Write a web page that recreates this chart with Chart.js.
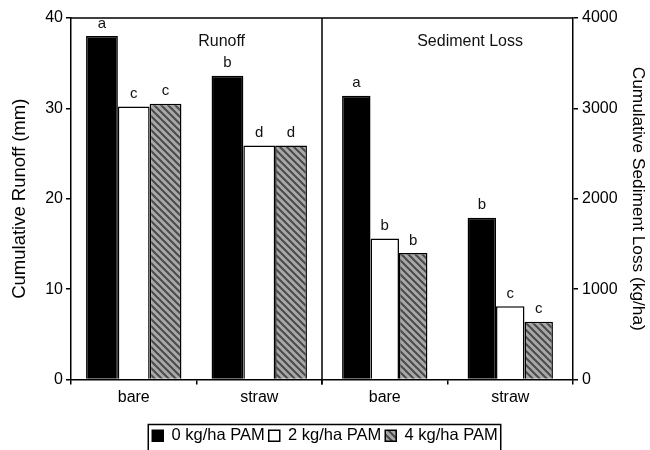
<!DOCTYPE html>
<html lang="en">
<head>
<meta charset="utf-8" />
<title>Cumulative Runoff and Sediment Loss</title>
<script src="https://cdn.jsdelivr.net/npm/chart.js@4.4.0/dist/chart.umd.min.js"></script>
<style>
	html, body { margin: 0; padding: 0; background: #fff; }
	#wrap { width: 650px; height: 450px; }
</style>
</head>
<body>
<div id="wrap"><canvas id="chart" width="650" height="450"></canvas></div>
<script>
	// categories along the x axis (runoff half, then sediment half)
	const categories = ['bare', 'straw', 'bare', 'straw'];
	const seriesNames = ['0 kg/ha PAM', '2 kg/ha PAM', '4 kg/ha PAM'];

	// runoff (mm), left axis
	const runoff0 = [38.0, 33.6];
	const runoff2 = [30.2, 25.9];
	const runoff4 = [30.5, 25.9];
	const runoffLetters = [['a', 'b'], ['c', 'd'], ['c', 'd']];

	// sediment loss (kg/ha), right axis
	const sed0 = [3140, 1790];
	const sed2 = [1560, 810];
	const sed4 = [1400, 640];
	const sedLetters = [['a', 'b'], ['b', 'c'], ['b', 'c']];

	const leftTicks = [0, 10, 20, 30, 40];
	const rightTicks = [0, 1000, 2000, 3000, 4000];

	const FONT = 'Liberation Sans';

	// grey hatched fill
	function hatch() {
		const c = document.createElement('canvas');
		c.width = 7; c.height = 7;
		const g = c.getContext('2d');
		g.fillStyle = '#a8a8a8';
		g.fillRect(0, 0, 7, 7);
		g.strokeStyle = '#4a4a4a';
		g.lineWidth = 2;
		g.beginPath();
		g.moveTo(-2, -2); g.lineTo(9, 9);
		g.moveTo(-2, 5); g.lineTo(2, 9);
		g.moveTo(5, -2); g.lineTo(9, 2);
		g.stroke();
		return g.createPattern(c, 'repeat');
	}
	const hatchFill = hatch();
	const fills = ['#000', '#fff', hatchFill];

	const runoffSets = [runoff0, runoff2, runoff4];
	const sedSets = [sed0, sed2, sed4];

	const datasets = [];
	runoffSets.forEach((vals, i) => {
		datasets.push({
			label: seriesNames[i],
			data: [vals[0], vals[1], null, null],
			letters: runoffLetters[i],
			yAxisID: 'y',
			backgroundColor: fills[i],
			borderColor: '#000',
			borderWidth: 1.5,
			borderSkipped: 'bottom',
			barPercentage: 1,
			categoryPercentage: 0.76,
			skipNull: true
		});
	});
	sedSets.forEach((vals, i) => {
		datasets.push({
			label: seriesNames[i],
			data: [null, null, vals[0], vals[1]],
			letters: sedLetters[i],
			yAxisID: 'y2',
			backgroundColor: fills[i],
			borderColor: '#000',
			borderWidth: 1.5,
			borderSkipped: 'bottom',
			barPercentage: 1,
			categoryPercentage: 0.68,
			skipNull: true
		});
	});

	// letters above bars, panel titles, frame and divider, legend box
	const extras = {
		id: 'extras',
		afterDatasetsDraw(chart) {
			const ctx = chart.ctx;
			const a = chart.chartArea;
			ctx.save();
			ctx.fillStyle = '#111';
			ctx.font = '15px "' + FONT + '"';
			ctx.textAlign = 'center';
			ctx.textBaseline = 'bottom';
			chart.data.datasets.forEach((ds, di) => {
				const meta = chart.getDatasetMeta(di);
				let k = 0;
				meta.data.forEach((bar, j) => {
					if (ds.data[j] == null) return;
					ctx.fillText(ds.letters[k++], bar.x, bar.y - 5);
				});
			});
			ctx.font = '16px "' + FONT + '"';
			ctx.textBaseline = 'middle';
			const mid = (a.left + a.right) / 2;
			ctx.fillText('Runoff', a.left + (mid - a.left) * 0.6, 42);
			ctx.fillText('Sediment Loss', mid + (a.right - mid) * 0.59, 42);

			ctx.strokeStyle = '#000';
			ctx.lineWidth = 1.5;
			ctx.beginPath();
			ctx.moveTo(a.left, a.top); ctx.lineTo(a.right, a.top);
			ctx.moveTo(mid, a.top); ctx.lineTo(mid, a.bottom + 5);
			ctx.stroke();
			ctx.restore();
		},
		afterDraw(chart) {
			const boxes = chart.legend.legendHitBoxes;
			if (!boxes || !boxes.length) return;
			const ctx = chart.ctx;
			const l = Math.min(...boxes.map(b => b.left)) - 4;
			const r = Math.max(...boxes.map(b => b.left + b.width)) + 3;
			const t = boxes[0].top - 3;
			ctx.save();
			ctx.strokeStyle = '#000';
			ctx.lineWidth = 1.5;
			ctx.beginPath();
			ctx.moveTo(l, 452); ctx.lineTo(l, t); ctx.lineTo(r, t); ctx.lineTo(r, 452);
			ctx.stroke();
			ctx.restore();
		}
	};

	new Chart(document.getElementById('chart'), {
		type: 'bar',
		data: { labels: categories, datasets: datasets },
		plugins: [extras],
		options: {
			responsive: false,
			animation: false,
			layout: { padding: { top: 18, left: 0, right: 0, bottom: -4 } },
			plugins: {
				tooltip: { enabled: false },
				legend: {
					position: 'bottom',
					labels: {
						color: '#000',
						font: { family: FONT, size: 16.5 },
						boxWidth: 11,
						boxHeight: 11,
						padding: 4,
						generateLabels: (chart) => seriesNames.map((n, i) => ({
							text: n,
							fillStyle: fills[i],
							strokeStyle: '#000',
							lineWidth: 1.5,
							datasetIndex: i,
							fontColor: '#000'
						}))
					}
				}
			},
			scales: {
				x: {
					offset: true,
					grid: { offset: true, drawOnChartArea: false, color: '#000', tickLength: 5, lineWidth: 1.5 },
					border: { color: '#000', width: 1.5 },
					ticks: { color: '#000', font: { family: FONT, size: 16 }, padding: 3 },
					afterFit: (s) => { s.height = 44; }
				},
				y: {
					position: 'left',
					min: 0, max: 40,
					afterBuildTicks: (s) => { s.ticks = leftTicks.map(v => ({ value: v })); },
					grid: { drawOnChartArea: false, color: '#000', tickLength: 5, lineWidth: 1.5 },
					border: { color: '#000', width: 1.5 },
					ticks: { color: '#000', font: { family: FONT, size: 16 }, padding: 3 },
					title: { display: true, text: 'Cumulative Runoff (mm)', color: '#000', font: { family: FONT, size: 18.5 }, padding: { top: 9, bottom: 0 } },
					afterFit: (s) => { s.width = 71; }
				},
				y2: {
					position: 'right',
					min: 0, max: 4000,
					afterBuildTicks: (s) => { s.ticks = rightTicks.map(v => ({ value: v })); },
					grid: { drawOnChartArea: false, color: '#000', tickLength: 5, lineWidth: 1.5 },
					border: { color: '#000', width: 1.5 },
					ticks: { color: '#000', font: { family: FONT, size: 16 }, padding: 4, callback: (v) => String(v) },
					title: { display: true, text: 'Cumulative Sediment Loss (kg/ha)', color: '#000', font: { family: FONT, size: 17.3 }, padding: 2 },
					afterFit: (s) => { s.width = 77; }
				}
			}
		}
	});
</script>
</body>
</html>
